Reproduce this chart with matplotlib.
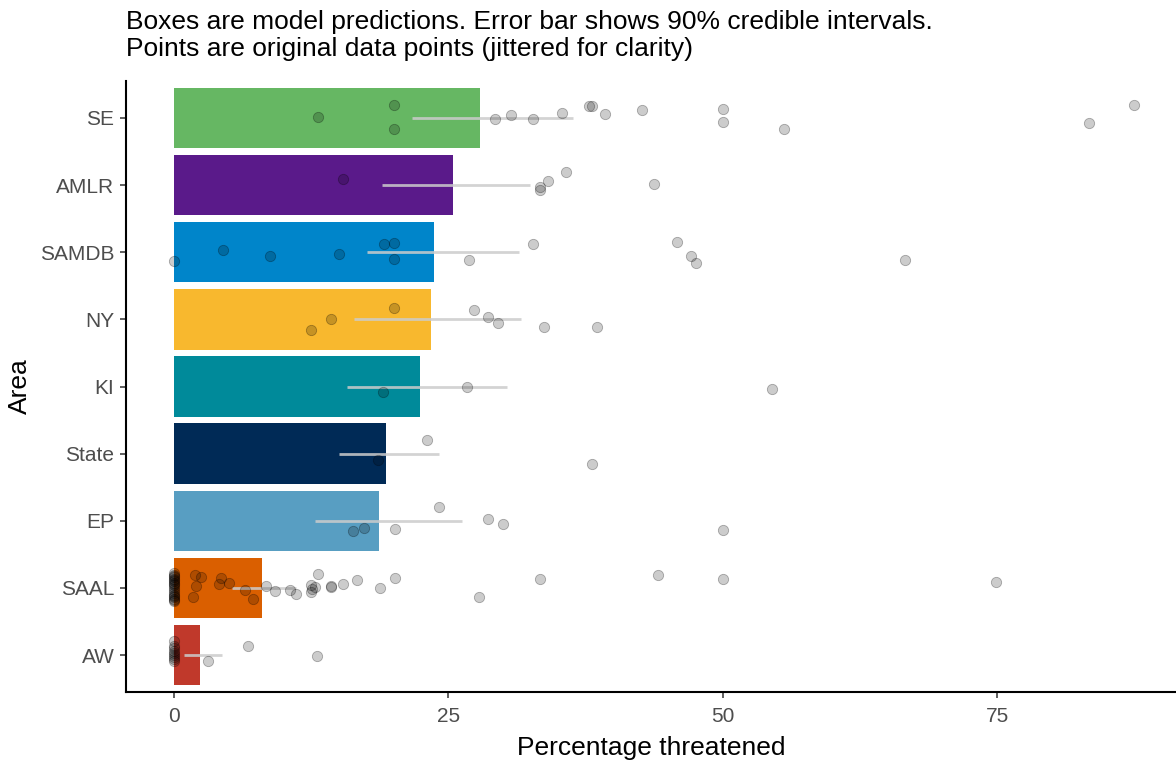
import numpy as np
import matplotlib
matplotlib.use("Agg")
import matplotlib.pyplot as plt

plt.rcParams["font.family"] = ["Liberation Sans", "DejaVu Sans"]

# categories, bottom to top
areas = ["AW", "SAAL", "EP", "State", "KI", "NY", "SAMDB", "AMLR", "SE"]
colors = ["#C0392B", "#DA5F00", "#589EC2", "#002A56", "#008A9A",
          "#F8B82E", "#0085CA", "#5A1A8A", "#66B763"]

# model predictions and 90% credible intervals
pred = [2.4, 8.0, 18.7, 19.3, 22.4, 23.4, 23.7, 25.4, 27.9]
ci_lo = [0.9, 5.3, 12.8, 15.0, 15.8, 16.4, 17.6, 18.9, 21.7]
ci_hi = [4.4, 11.1, 26.2, 24.1, 30.3, 31.6, 31.4, 32.4, 36.3]

# observed data points (value, vertical jitter in category units)
pts_AW = [0, 0, 0, 0, 0, 0, 0, 0, 0, 3.1, 6.7, 13.0]
jit_AW = [0.21, 0.13, 0.1, 0.06, 0.03, 0.0, -0.03, -0.06, -0.09,
          -0.09, 0.13, -0.02]
pts_SAAL = [0] * 20 + [1.9, 2.5, 2.0, 1.7, 4.3, 4.1, 5.0, 6.5, 7.2, 8.4, 9.2,
                       10.6, 11.1, 12.5, 12.8, 12.5, 13.1, 12.6, 14.3, 14.3,
                       15.4, 16.7, 18.8, 20.1, 27.8, 33.3, 44.1, 50.0, 74.9]
jit_SAAL = [0.22, 0.2, 0.18, 0.16, 0.14, 0.12, 0.1, 0.08, 0.06, 0.04, 0.02,
            -0.01, -0.04, -0.07, -0.1, -0.12, -0.14, -0.16, -0.18, -0.19,
            0.19, 0.16, 0.03, -0.13, 0.15, 0.06, 0.08, -0.03, -0.17, 0.03,
            -0.04, -0.03, -0.09, 0.05, 0.02, -0.06, 0.21, -0.01, 0.03, 0.02,
            0.06, 0.12, 0.0, 0.15, -0.14, 0.13, 0.19, 0.13, 0.09]
pts_EP = [16.3, 17.3, 20.1, 24.1, 28.6, 30.0, 50.0]
jit_EP = [-0.15, -0.1, -0.12, 0.2, 0.03, -0.05, -0.13]
pts_State = [18.6, 23.0, 38.1]
jit_State = [-0.09, 0.2, -0.16]
pts_KI = [19.0, 26.7, 54.5]
jit_KI = [-0.08, -0.01, -0.04]
pts_NY = [12.5, 14.3, 20.0, 27.3, 28.6, 29.5, 33.7, 38.5]
jit_NY = [-0.16, 0.0, 0.17, 0.14, 0.04, -0.06, -0.11, -0.11]
pts_SAMDB = [0.0, 4.5, 8.7, 15.0, 19.1, 20.0, 20.0, 26.9, 32.7, 45.8, 47.1,
             47.5, 66.6]
jit_SAMDB = [-0.13, 0.04, -0.05, -0.02, 0.12, 0.13, -0.1, -0.12, 0.12, 0.15,
             -0.06, -0.16, -0.11]
pts_AMLR = [15.4, 33.3, 33.3, 34.1, 35.7, 43.7]
jit_AMLR = [0.09, -0.03, -0.07, 0.06, 0.19, 0.01]
pts_SE = [13.1, 20.0, 20.0, 29.2, 30.7, 32.7, 35.3, 37.8, 38.1, 39.3, 42.6,
          50.0, 50.0, 55.6, 83.3, 87.4]
jit_SE = [0.01, 0.19, -0.16, -0.02, 0.05, -0.02, 0.07, 0.18, 0.18, 0.06,
          0.12, 0.13, -0.06, -0.17, -0.08, 0.2]

points = [(pts_AW, jit_AW), (pts_SAAL, jit_SAAL), (pts_EP, jit_EP),
          (pts_State, jit_State), (pts_KI, jit_KI), (pts_NY, jit_NY),
          (pts_SAMDB, jit_SAMDB), (pts_AMLR, jit_AMLR), (pts_SE, jit_SE)]

fig = plt.figure(figsize=(11.76, 7.6), dpi=100)
ax = fig.add_axes([126 / 1176, 68 / 760, 1050 / 1176, 611 / 760])

ypos = np.arange(1, len(areas) + 1)
ax.barh(ypos, pred, height=0.9, color=colors, zorder=1)
ax.hlines(ypos, ci_lo, ci_hi, color="#cccccc", alpha=0.85, lw=2.0, zorder=2)

for y, (vals, jit) in zip(ypos, points):
    ax.scatter(vals, y + np.array(jit), s=55, facecolor=(0, 0, 0, 0.2),
               edgecolor=(0, 0, 0, 0.3), linewidth=0.6, zorder=3)

ax.set_xlim(-4.37, 91.26)
ax.set_ylim(0.45, 9.55)
ax.set_yticks(ypos)
ax.set_yticklabels(areas)
ax.set_xticks([0, 25, 50, 75])

for side in ["top", "right"]:
    ax.spines[side].set_visible(False)
for side in ["left", "bottom"]:
    ax.spines[side].set_linewidth(1.5)
ax.tick_params(axis="both", labelsize=15, labelcolor="#4D4D4D",
               length=4.3, width=1.1, color="#333333", pad=4)
ax.tick_params(axis="x", pad=6.5)
ax.set_xlabel("Percentage threatened", fontsize=19, labelpad=7)
ax.set_ylabel("Area", fontsize=19, labelpad=6)

fig.text(126 / 1176, 1 - 10 / 760,
         "Boxes are model predictions. Error bar shows 90% credible intervals.\n"
         "Points are original data points (jittered for clarity)",
         ha="left", va="top", fontsize=19, linespacing=1.15)

fig.savefig("out.png", dpi=100)
